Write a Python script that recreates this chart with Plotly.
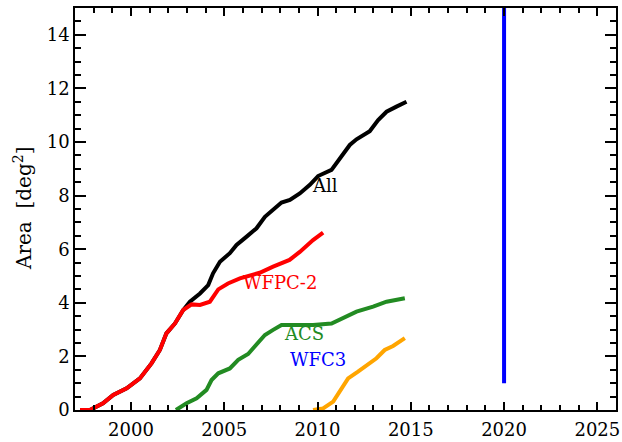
import plotly.graph_objects as go

# WFPC-2 (red)
wfpc2_year = [1997.27, 1997.8, 1998.5, 1999.05, 1999.77, 2000.48, 2001.1, 2001.55, 2001.9, 2002.36,
              2002.8, 2003.25, 2003.7, 2004.23, 2004.68, 2005.2, 2005.84, 2006.2, 2006.9, 2007.62,
              2008.5, 2009.05, 2009.76, 2010.3]
wfpc2_area = [0.0, 0.0, 0.25, 0.56, 0.81, 1.18, 1.74, 2.24, 2.86, 3.23,
              3.73, 3.94, 3.92, 4.04, 4.5, 4.72, 4.91, 4.98, 5.12, 5.35,
              5.6, 5.9, 6.34, 6.62]

# All (black)
all_year = [1997.27, 1997.8, 1998.5, 1999.05, 1999.77, 2000.48, 2001.1, 2001.55, 2001.9, 2002.36,
            2002.8, 2003.16, 2003.7, 2004.14, 2004.4, 2004.77, 2005.3, 2005.66, 2006.2, 2006.73,
            2007.18, 2007.62, 2008.07, 2008.52, 2009.05, 2009.59, 2010.03, 2010.75, 2011.2, 2011.73,
            2012.09, 2012.8, 2013.25, 2013.7, 2014.23, 2014.77]
all_area = [0.0, 0.0, 0.25, 0.56, 0.81, 1.18, 1.74, 2.24, 2.86, 3.23,
            3.73, 4.04, 4.35, 4.66, 5.1, 5.53, 5.85, 6.16, 6.47, 6.78,
            7.21, 7.46, 7.74, 7.84, 8.08, 8.4, 8.73, 8.96, 9.39, 9.89,
            10.1, 10.4, 10.82, 11.13, 11.32, 11.5]

# ACS (green)
acs_year = [2002.41, 2002.98, 2003.52, 2004.05, 2004.32, 2004.68, 2005.3, 2005.75, 2006.28, 2006.73,
            2007.18, 2007.62, 2008.07, 2008.6, 2009.76, 2010.75, 2011.37, 2012.09, 2012.98, 2013.7, 2014.68]
acs_area = [0.0, 0.25, 0.44, 0.75, 1.12, 1.37, 1.55, 1.87, 2.09, 2.43,
            2.8, 2.99, 3.17, 3.17, 3.17, 3.23, 3.45, 3.67, 3.86, 4.04, 4.17]

# WFC3 (orange)
wfc3_year = [2009.76, 2010.3, 2010.84, 2011.28, 2011.64, 2012.17, 2012.7, 2013.16, 2013.6, 2014.05, 2014.68]
wfc3_area = [0.0, 0.06, 0.31, 0.81, 1.18, 1.43, 1.68, 1.93, 2.24, 2.39, 2.68]

# Vertical marker (blue)
marker_year = [2020, 2020]
marker_area = [1.0, 15.2]

# Labels
label_text = ["All", "WFPC-2", "ACS", "WFC3"]
label_x = [2010.39, 2007.98, 2009.27, 2010.05]
label_y = [8.36, 4.74, 2.87, 1.87]
label_color = ["black", "#ff0000", "#228b22", "#0000ff"]

x_range = [1997, 2026]
y_range = [0, 15]

fig = go.Figure()
series = [
    (all_year, all_area, "black"),
    (wfpc2_year, wfpc2_area, "#ff0000"),
    (acs_year, acs_area, "#228b22"),
    (wfc3_year, wfc3_area, "#ffa500"),
    (marker_year, marker_area, "#0000ff"),
]
for xs, ys, c in series:
    fig.add_trace(go.Scatter(x=xs, y=ys, mode="lines",
                             line=dict(color=c, width=4), showlegend=False))

for t, x, y, c in zip(label_text, label_x, label_y, label_color):
    fig.add_annotation(x=x, y=y, text=t, showarrow=False,
                       font=dict(family="DejaVu Serif", size=18, color=c),
                       xanchor="center", yanchor="middle")

fig.add_annotation(x=(23 - 75) / 541, y=0.5, xref="paper", yref="paper",
                   text="Area  [deg<sup>2</sup>]", textangle=-90, showarrow=False,
                   font=dict(family="DejaVu Serif", size=20, color="black"),
                   xanchor="center", yanchor="middle")

tickfont = dict(family="DejaVu Serif", size=18, color="black")

fig.update_layout(
    width=622, height=442, margin=dict(l=75, r=6, t=8, b=32, autoexpand=False),
    plot_bgcolor="white", paper_bgcolor="white",
    xaxis=dict(range=x_range, dtick=5, ticks="inside", ticklen=8,
               tickwidth=2, tickcolor="#000000", showline=True, linecolor="black",
               linewidth=1.5, mirror="allticks", showgrid=False, zeroline=False,
               tickfont=tickfont, ticklabelstandoff=3, automargin=False,
               minor=dict(dtick=1, ticklen=5, ticks="inside", tickcolor="#000000",
                          tickwidth=1.5)),
    yaxis=dict(range=y_range, dtick=2, ticks="inside", ticklen=11,
               tickwidth=2, tickcolor="#000000", showline=True, linecolor="black",
               linewidth=1.5, mirror="allticks", showgrid=False, zeroline=False,
               tickfont=tickfont, automargin=False,
               minor=dict(dtick=0.5, ticklen=6, ticks="inside", tickcolor="#000000",
                          tickwidth=1.5)),
)

fig.write_html("out.html")
